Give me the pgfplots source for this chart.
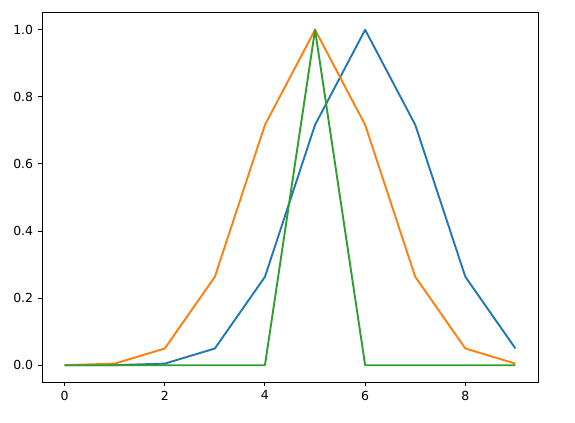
\documentclass[border=0pt]{standalone}
\usepackage{fontspec}
\setmainfont{DejaVu Sans}
\usepackage{pgfplots}
\pgfplotsset{compat=1.18}
\definecolor{tabblue}{HTML}{1F77B4}
\definecolor{taborange}{HTML}{FF7F0E}
\definecolor{tabgreen}{HTML}{2CA02C}
\begin{document}
\begin{tikzpicture}
\begin{axis}[name=ax,
  scale only axis, width=496bp, height=369bp,
  xmin=-0.45, xmax=9.45, ymin=-0.05, ymax=1.05,
  xtick={0,2,4,6,8}, ytick={0,0.2,0.4,0.6,0.8,1.0},
  tick align=outside, tick pos=lower,
  major tick length=4.4bp,
  every tick/.style={black, line width=1bp},
  axis line style={line width=1bp},
  tick label style={font=\fontsize{12.5}{14}\selectfont},
  xticklabel style={yshift=-1bp},
  yticklabel style={xshift=-1bp},
  /pgf/number format/assume math mode=true,
  yticklabel style={/pgf/number format/fixed, /pgf/number format/precision=1, /pgf/number format/fixed zerofill},
  xticklabel style={/pgf/number format/fixed},
  axis background/.style={fill=white},
  every axis plot/.append style={line join=round},
]
\addplot[tabblue, line width=1.9bp, mark=none] coordinates {
(0,0.0000) (1,0.00024) (2,0.0048) (3,0.0498) (4,0.2636) (5,0.7165) (6,1.0) (7,0.7165) (8,0.2636) (9,0.0498)};
\addplot[taborange, line width=1.9bp, mark=none] coordinates {
(0,0.00024) (1,0.0048) (2,0.0498) (3,0.2636) (4,0.7165) (5,1.0) (6,0.7165) (7,0.2636) (8,0.0498) (9,0.0048)};
\addplot[tabgreen, line width=1.9bp, mark=none] coordinates {
(0,0) (1,0) (2,0) (3,0) (4,0) (5,1.0) (6,0) (7,0) (8,0) (9,0)};
\end{axis}
\useasboundingbox ([xshift=-42bp,yshift=-41bp]ax.south west) rectangle ([xshift=37bp,yshift=13bp]ax.north east);
\end{tikzpicture}
\end{document}
